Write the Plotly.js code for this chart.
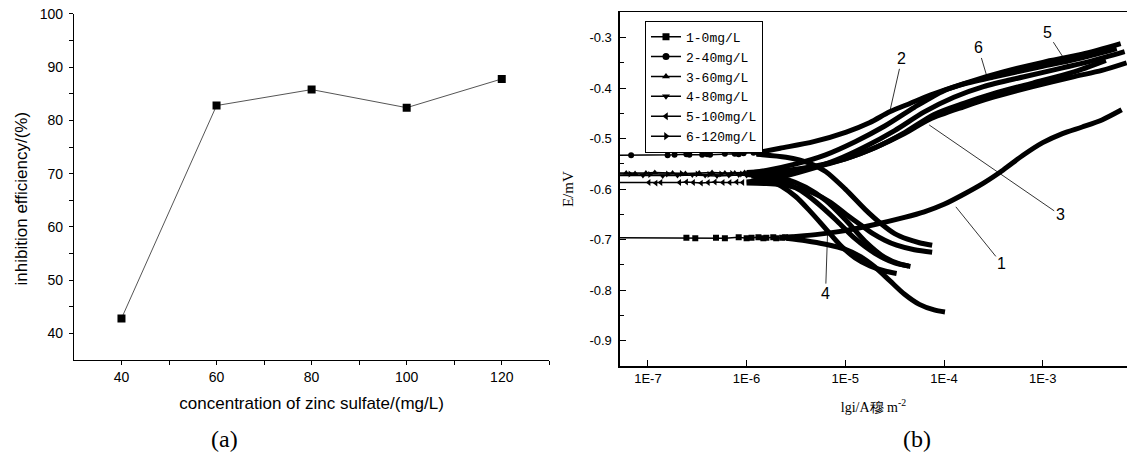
<!DOCTYPE html>
<html><head><meta charset="utf-8">
<script src="https://cdn.plot.ly/plotly-3.0.1.min.js"></script>
<style>html,body{margin:0;padding:0;overflow:hidden;background:#fff}</style>
</head><body><div id="chart" style="width:1127px;height:459px"></div>
<script>
// ---------- Panel (a) ----------
const concentrations = [40, 60, 80, 100, 120];
const inhibitionEfficiency = [42.8, 82.8, 85.8, 82.4, 87.8];
const aXTicks = [40, 60, 80, 100, 120];
const aXMinor = [50, 70, 90, 110, 130];
const aYTicks = [40, 50, 60, 70, 80, 90, 100];
const aYMinor = [45, 55, 65, 75, 85, 95];

// ---------- Panel (b) ----------
const seriesNames = ['1-0mg/L', '2-40mg/L', '3-60mg/L', '4-80mg/L', '5-100mg/L', '6-120mg/L'];
const seriesSymbols = ['square', 'circle', 'triangle-up', 'triangle-down', 'triangle-left', 'triangle-right'];
const bXTickVals = [-7, -6, -5, -4, -3];
const bXTickText = ['1E-7', '1E-6', '1E-5', '1E-4', '1E-3'];
const bYTickVals = [-0.9, -0.8, -0.7, -0.6, -0.5, -0.4, -0.3];
const bYTickText = ['-0.9', '-0.8', '-0.7', '-0.6', '-0.5', '-0.4', '-0.3'];
const bYMinor = [-0.85, -0.75, -0.65, -0.55, -0.45, -0.35];

// curve 1 (0 mg/L): x = lg i, y = E
const c1_ecx = [-7.5, -6.61, -6.52, -6.31, -6.22, -6.08, -6.00, -5.95, -5.88, -5.83, -5.80, -5.73, -5.70, -5.64, -5.61, -5.56];
const c1_ecy = [-0.696, -0.696, -0.697, -0.696, -0.697, -0.695, -0.697, -0.696, -0.695, -0.697, -0.696, -0.695, -0.697, -0.696, -0.695, -0.696];
const c1_ax = [-5.6, -5.3, -5.0, -4.7, -4.4, -4.2, -4.0, -3.8, -3.6, -3.4, -3.2, -3.0, -2.8, -2.6, -2.4, -2.2];
const c1_ay = [-0.695, -0.690, -0.682, -0.670, -0.656, -0.645, -0.630, -0.610, -0.588, -0.562, -0.533, -0.508, -0.490, -0.477, -0.463, -0.443];
const c1_cx = [-5.6, -5.4, -5.2, -5.0, -4.85, -4.7, -4.55, -4.4, -4.25, -4.1, -3.99];
const c1_cy = [-0.697, -0.702, -0.709, -0.719, -0.733, -0.754, -0.781, -0.808, -0.828, -0.839, -0.843];

// curve 2 (40 mg/L)
const c2_ecx = [-7.5, -7.17, -6.80, -6.73, -6.61, -6.58, -6.45, -6.40, -6.37, -6.22, -6.12, -6.08, -6.03, -5.93, -5.88];
const c2_ecy = [-0.533, -0.533, -0.533, -0.532, -0.531, -0.532, -0.532, -0.531, -0.532, -0.530, -0.530, -0.531, -0.529, -0.528, -0.529];
const c2_ax = [-5.9, -5.66, -5.32, -4.99, -4.75, -4.55, -4.34, -4.14, -3.84, -3.5, -3.0, -2.6, -2.25];
const c2_ay = [-0.528, -0.519, -0.506, -0.487, -0.468, -0.447, -0.430, -0.414, -0.394, -0.378, -0.357, -0.340, -0.322];
const c2_cx = [-5.9, -5.6, -5.36, -5.2, -5.0, -4.8, -4.64, -4.5, -4.37, -4.25, -4.12];
const c2_cy = [-0.531, -0.537, -0.549, -0.565, -0.600, -0.640, -0.668, -0.688, -0.699, -0.706, -0.711];

// curve 3 (60 mg/L)
const c3_ecx = [-7.5, -7.22, -7.13, -7.02, -6.93, -6.75, -6.62, -6.48, -6.35, -6.22, -6.12, -6.02];
const c3_ecy = [-0.568, -0.568, -0.569, -0.568, -0.567, -0.568, -0.569, -0.568, -0.567, -0.568, -0.568, -0.567];
const c3_ax = [-6.0, -5.6, -5.3, -5.0, -4.7, -4.4, -4.15, -3.8, -3.5, -3.1, -2.7, -2.4, -2.15];
const c3_ay = [-0.567, -0.563, -0.554, -0.540, -0.518, -0.490, -0.462, -0.437, -0.418, -0.397, -0.378, -0.365, -0.350];
const c3_cx = [-6.0, -5.8, -5.6, -5.4, -5.2, -5.0, -4.8, -4.6, -4.45, -4.34];
const c3_cy = [-0.569, -0.572, -0.580, -0.596, -0.622, -0.660, -0.703, -0.735, -0.748, -0.753];

// curve 4 (80 mg/L)
const c4_ecx = [-7.5, -7.05, -6.85, -6.70, -6.55, -6.42, -6.30, -6.18, -6.08, -6.00];
const c4_ecy = [-0.573, -0.573, -0.574, -0.573, -0.572, -0.573, -0.574, -0.573, -0.572, -0.573];
const c4_ax = [-5.95, -5.6, -5.3, -5.0, -4.7, -4.4, -4.1, -3.8, -3.5, -3.1, -2.7, -2.36];
const c4_ay = [-0.572, -0.566, -0.556, -0.540, -0.518, -0.488, -0.452, -0.430, -0.411, -0.390, -0.369, -0.345];
const c4_cx = [-5.95, -5.8, -5.65, -5.5, -5.36, -5.2, -5.05, -4.9, -4.75, -4.6, -4.48];
const c4_cy = [-0.574, -0.580, -0.594, -0.615, -0.643, -0.678, -0.711, -0.736, -0.752, -0.762, -0.767];

// curve 5 (100 mg/L)
const c5_ecx = [-7.5, -6.99, -6.92, -6.87, -6.68, -6.61, -6.54, -6.46, -6.39, -6.32, -6.24, -6.17, -6.10, -6.04];
const c5_ecy = [-0.587, -0.587, -0.588, -0.587, -0.587, -0.586, -0.587, -0.588, -0.587, -0.586, -0.587, -0.587, -0.586, -0.587];
const c5_ax = [-6.0, -5.7, -5.4, -5.1, -4.8, -4.5, -4.2, -3.9, -3.6, -3.2, -2.8, -2.5, -2.17];
const c5_ay = [-0.586, -0.578, -0.563, -0.543, -0.516, -0.484, -0.447, -0.418, -0.397, -0.378, -0.360, -0.346, -0.328];
const c5_cx = [-6.0, -5.8, -5.66, -5.5, -5.32, -5.15, -4.99, -4.85, -4.72, -4.6, -4.48, -4.3, -4.12];
const c5_cy = [-0.588, -0.589, -0.591, -0.597, -0.608, -0.626, -0.650, -0.670, -0.688, -0.701, -0.711, -0.720, -0.725];

// curve 6 (120 mg/L)
const c6_ecx = [-7.5, -7.18, -6.98, -6.80, -6.66, -6.50, -6.38, -6.26, -6.15, -6.05];
const c6_ecy = [-0.570, -0.570, -0.571, -0.570, -0.569, -0.570, -0.571, -0.570, -0.569, -0.570];
const c6_ax = [-6.0, -5.8, -5.5, -5.2, -4.9, -4.6, -4.3, -4.0, -3.7, -3.4, -3.0, -2.6, -2.21];
const c6_ay = [-0.569, -0.563, -0.550, -0.532, -0.506, -0.475, -0.438, -0.405, -0.385, -0.368, -0.349, -0.333, -0.312];
const c6_cx = [-6.0, -5.8, -5.6, -5.45, -5.3, -5.1, -4.9, -4.7, -4.5, -4.36];
const c6_cy = [-0.571, -0.576, -0.588, -0.603, -0.625, -0.660, -0.698, -0.727, -0.746, -0.752];

// curve labels: [text, lg i, E, dx(px), dy(px)]
const curveLabels = [
  ['1', -3.88, -0.635, 46, 57],
  ['2', -4.55, -0.447, 12, -53],
  ['3', -4.15, -0.473, 131, 90],
  ['4', -5.18, -0.688, -2, 60],
  ['5', -2.73, -0.358, -22, -34],
  ['6', -3.57, -0.374, -8, -27]
];

const curves = [
  [c1_ecx, c1_ecy, c1_ax, c1_ay, c1_cx, c1_cy],
  [c2_ecx, c2_ecy, c2_ax, c2_ay, c2_cx, c2_cy],
  [c3_ecx, c3_ecy, c3_ax, c3_ay, c3_cx, c3_cy],
  [c4_ecx, c4_ecy, c4_ax, c4_ay, c4_cx, c4_cy],
  [c5_ecx, c5_ecy, c5_ax, c5_ay, c5_cx, c5_cy],
  [c6_ecx, c6_ecy, c6_ax, c6_ay, c6_cx, c6_cy]
];

const traces = [];
traces.push({
  x: concentrations, y: inhibitionEfficiency, xaxis: 'x', yaxis: 'y',
  mode: 'lines+markers', showlegend: false,
  line: {color: '#555', width: 1},
  marker: {symbol: 'square', size: 8, color: '#000'}
});

curves.forEach((c, i) => {
  traces.push({x: c[0], y: c[1], xaxis: 'x2', yaxis: 'y2', mode: 'lines+markers', showlegend: false,
    line: {color: '#000', width: 1.5}, marker: {symbol: seriesSymbols[i], size: 6, color: '#000'}});
  traces.push({x: c[2], y: c[3], xaxis: 'x2', yaxis: 'y2', mode: 'lines', showlegend: false,
    line: {color: '#000', width: 5, shape: 'spline', smoothing: 0.8}});
  traces.push({x: c[4], y: c[5], xaxis: 'x2', yaxis: 'y2', mode: 'lines', showlegend: false,
    line: {color: '#000', width: 5, shape: 'spline', smoothing: 0.8}});
});

seriesNames.forEach((n, i) => {
  traces.push({x: [null], y: [null], xaxis: 'x2', yaxis: 'y2', name: n, mode: 'lines+markers',
    line: {color: '#000', width: 1.5}, marker: {symbol: seriesSymbols[i], size: 7, color: '#000'}});
});

const sans = 'Arial, Liberation Sans, sans-serif';
const serif = 'Liberation Serif, Times New Roman, serif';
const tickFontA = {family: sans, size: 14, color: '#000'};
const tickFontB = {family: sans, size: 13, color: '#000'};
const annotations = curveLabels.map(l => ({
  text: l[0], x: l[1], y: l[2], xref: 'x2', yref: 'y2', ax: l[3], ay: l[4],
  showarrow: true, arrowhead: 0, arrowwidth: 0.8, arrowcolor: '#000',
  font: {family: sans, size: 16, color: '#000'}
}));
annotations.push({text: 'inhibition efficiency/(%)', xref: 'paper', yref: 'paper', x: 0.019, y: 0.5686,
  textangle: -90, showarrow: false, xanchor: 'center', yanchor: 'middle',
  font: {family: sans, size: 17, color: '#000'}});
annotations.push({text: '(a)', xref: 'paper', yref: 'paper', x: 0.1996, y: 0.0436, showarrow: false,
  xanchor: 'center', yanchor: 'middle', font: {family: serif, size: 24, color: '#000'}});
annotations.push({text: '(b)', xref: 'paper', yref: 'paper', x: 0.8137, y: 0.0436, showarrow: false,
  xanchor: 'center', yanchor: 'middle', font: {family: serif, size: 24, color: '#000'}});

const layout = {
  width: 1127, height: 459,
  margin: {l: 0, r: 0, t: 0, b: 0},
  paper_bgcolor: '#fff', plot_bgcolor: '#fff',
  showlegend: true,
  legend: {x: 0.5723, y: 0.9549, xanchor: 'left', yanchor: 'top', bgcolor: '#fff',
    bordercolor: '#000', borderwidth: 1, tracegroupgap: 0,
    font: {family: 'Liberation Mono, Courier New, monospace', size: 13, color: '#000'}},
  xaxis: {
    domain: [0.0656, 0.4874], range: [30, 130], anchor: 'y',
    tickmode: 'array', tickvals: aXTicks, ticks: 'outside', ticklen: 4, tickcolor: '#000',
    minor: {tickmode: 'array', tickvals: aXMinor, ticks: 'outside', ticklen: 4, tickcolor: '#000', showgrid: false},
    showline: true, linecolor: '#000', linewidth: 1, showgrid: false, zeroline: false, automargin: false,
    tickfont: tickFontA,
    title: {text: 'concentration of zinc sulfate/(mg/L)', font: {family: sans, size: 17, color: '#000'}, standoff: 13}
  },
  yaxis: {
    domain: [0.2157, 0.9695], range: [35, 100], anchor: 'x',
    tickmode: 'array', tickvals: aYTicks, ticks: 'outside', ticklen: 4, tickcolor: '#000', ticklabelstandoff: 3,
    minor: {tickmode: 'array', tickvals: aYMinor, ticks: 'outside', ticklen: 4, tickcolor: '#000', showgrid: false},
    showline: true, linecolor: '#000', linewidth: 1, showgrid: false, zeroline: false, automargin: false,
    tickfont: tickFontA
  },
  xaxis2: {
    domain: [0.5501, 1.0], range: [-7.283, -2.146], anchor: 'y2',
    tickmode: 'array', tickvals: bXTickVals, ticktext: bXTickText, ticks: 'inside', ticklen: 6, tickcolor: '#000',
    showline: true, mirror: true, linecolor: '#000', linewidth: 1.5, showgrid: false, zeroline: false, automargin: false,
    tickfont: tickFontB,
    title: {text: 'lgi/A穆 m<sup>-2</sup>', font: {family: serif, size: 14, color: '#000'}, standoff: 17}
  },
  yaxis2: {
    domain: [0.2026, 0.9732], range: [-0.95, -0.25], anchor: 'x2',
    tickmode: 'array', tickvals: bYTickVals, ticktext: bYTickText, ticks: 'inside', ticklen: 6, tickcolor: '#000', ticklabelstandoff: 4,
    minor: {tickmode: 'array', tickvals: bYMinor, ticks: 'inside', ticklen: 4, tickcolor: '#000', showgrid: false},
    showline: true, linecolor: '#000', linewidth: 1.5, showgrid: false, zeroline: false, automargin: false,
    tickfont: tickFontB,
    title: {text: 'E/mV', font: {family: serif, size: 15, color: '#000'}, standoff: 12}
  },
  annotations: annotations
};

Plotly.newPlot('chart', traces, layout, {staticPlot: true, displayModeBar: false});
</script></body></html>
